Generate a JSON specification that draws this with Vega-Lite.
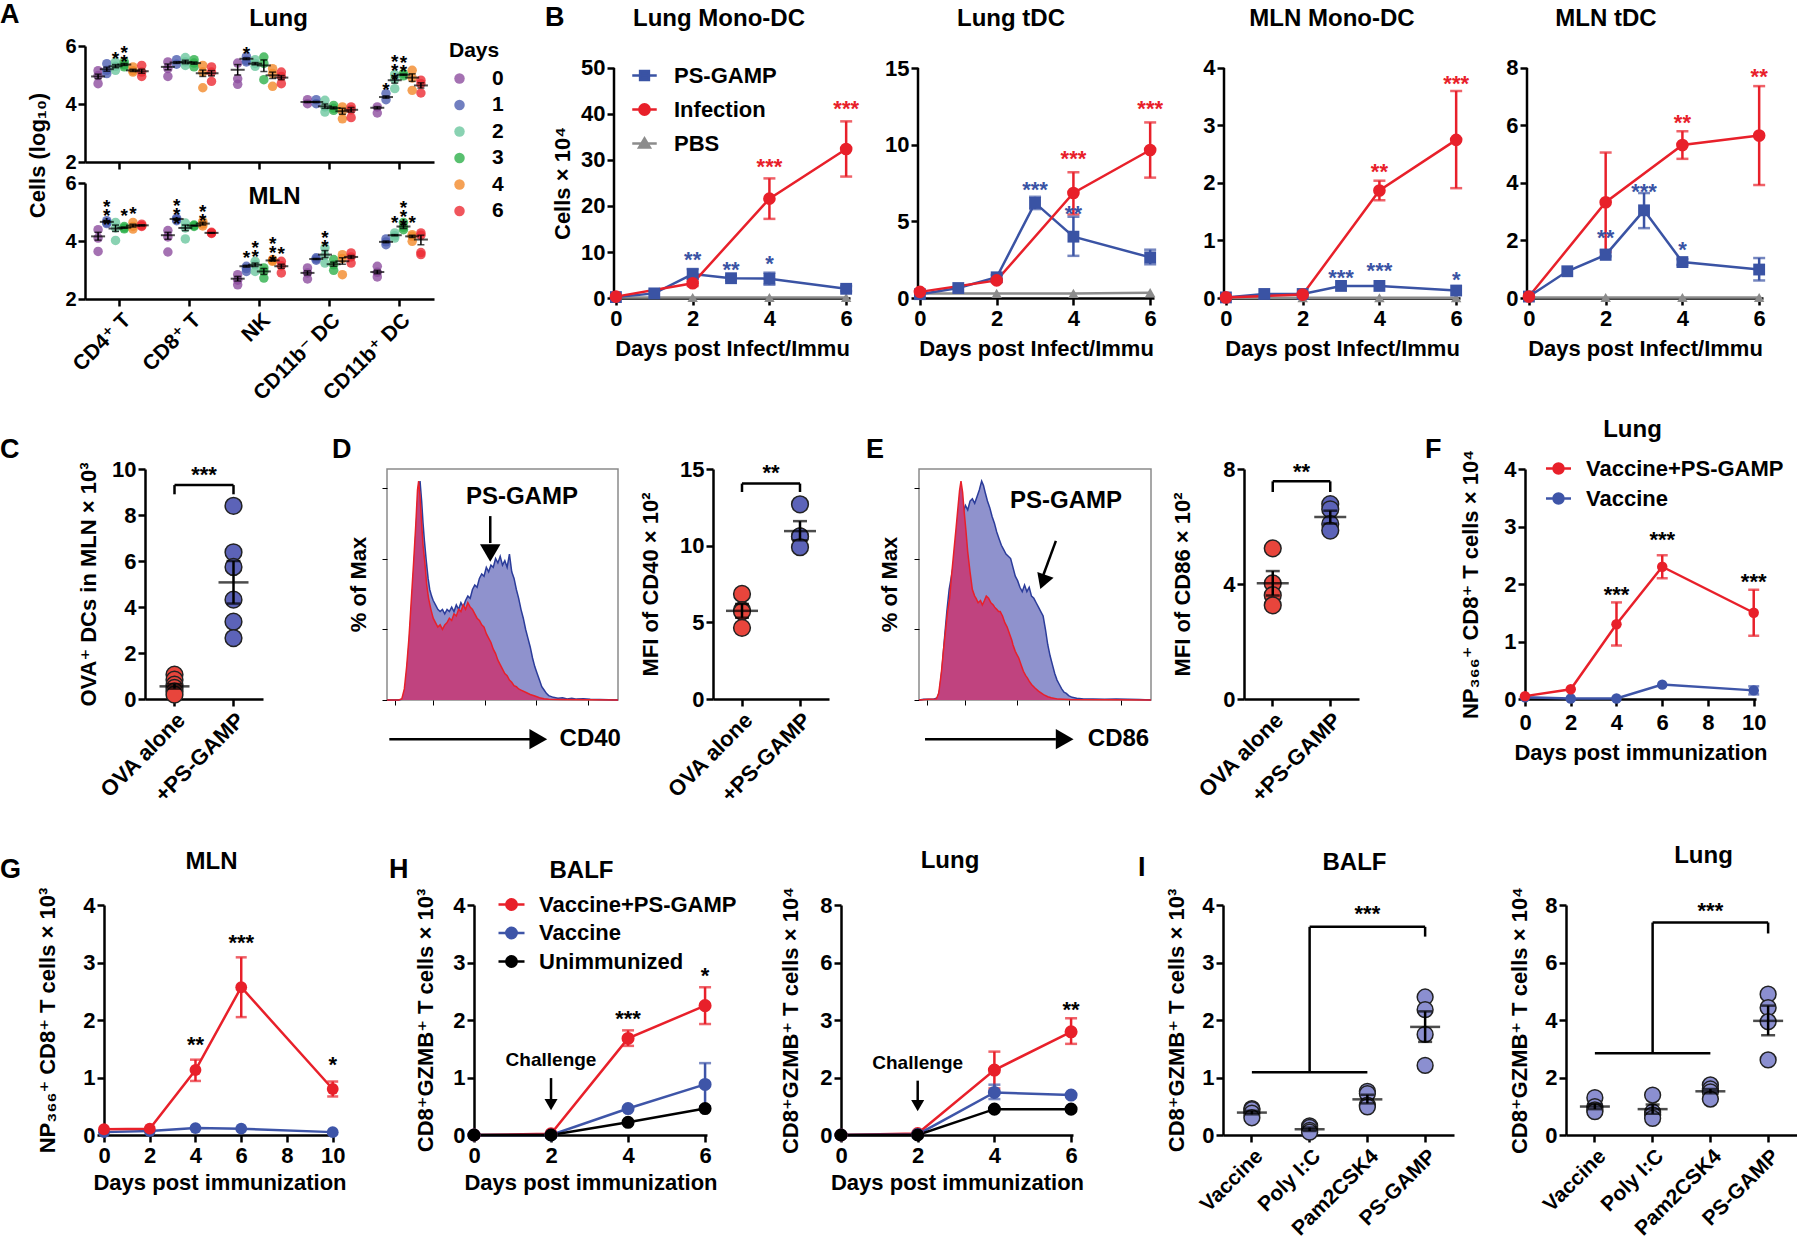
{
"$schema":"https://vega.github.io/schema/vega-lite/v6.json",
"padding":{"left":0,"top":1,"right":0,"bottom":0},
"background":"white",
"config":{
 "font":"Liberation Sans, Arial, DejaVu Sans, sans-serif",
 "view":{"stroke":null},
 "axis":{"domainColor":"#000","domainWidth":2.5,"tickColor":"#000","tickWidth":2.5,"tickSize":7,"labelFontSize":22,"labelFontWeight":"bold","labelColor":"#000","labelPadding":2,"titleFontSize":22,"titleFontWeight":"bold","titleColor":"#000","grid":false,"labelFlush":false,"labelOverlap":false,"titlePadding":6},
 "axisX":{"labelPadding":3},
 "title":{"fontSize":24,"fontWeight":"bold","color":"#000","anchor":"middle","frame":"group"},
 "legend":{"labelFontSize":22,"labelFontWeight":"bold","labelColor":"#000","titleFontSize":22,"titleFontWeight":"bold","titleColor":"#000","padding":0,"labelLimit":0},
 "text":{"fontWeight":"bold","color":"#000"}
},
"datasets":{
"a":[
{"o":"Lung","c":"CD4⁺ T","d":"0","m":4.95,"lo":4.87,"hi":5.03,"p":[5.15,4.98,4.7]},
{"o":"Lung","c":"CD4⁺ T","d":"1","m":5.2,"lo":5.13,"hi":5.27,"p":[5.39,5.16,5.05]},
{"o":"Lung","c":"CD4⁺ T","d":"2","m":5.3,"lo":5.25,"hi":5.36,"p":[5.45,5.3,5.16]},
{"o":"Lung","c":"CD4⁺ T","d":"3","m":5.36,"lo":5.33,"hi":5.4,"p":[5.45,5.35,5.28]},
{"o":"Lung","c":"CD4⁺ T","d":"4","m":5.16,"lo":5.12,"hi":5.2,"p":[5.28,5.15,5.1]},
{"o":"Lung","c":"CD4⁺ T","d":"6","m":5.13,"lo":5.06,"hi":5.2,"p":[5.33,5.1,4.95]},
{"o":"Lung","c":"CD8⁺ T","d":"0","m":5.28,"lo":5.18,"hi":5.38,"p":[5.45,5.22,4.95]},
{"o":"Lung","c":"CD8⁺ T","d":"1","m":5.43,"lo":5.4,"hi":5.46,"p":[5.53,5.37]},
{"o":"Lung","c":"CD8⁺ T","d":"2","m":5.45,"lo":5.39,"hi":5.51,"p":[5.6,5.45,5.33]},
{"o":"Lung","c":"CD8⁺ T","d":"3","m":5.41,"lo":5.37,"hi":5.45,"p":[5.53,5.41,5.28]},
{"o":"Lung","c":"CD8⁺ T","d":"4","m":5.06,"lo":4.95,"hi":5.17,"p":[5.33,5.1,4.56]},
{"o":"Lung","c":"CD8⁺ T","d":"6","m":5.06,"lo":4.97,"hi":5.15,"p":[5.28,5.1,4.78]},
{"o":"Lung","c":"NK","d":"0","m":5.18,"lo":5.0,"hi":5.36,"p":[5.41,4.87,4.68]},
{"o":"Lung","c":"NK","d":"1","m":5.56,"lo":5.53,"hi":5.59,"p":[5.64,5.5,5.45]},
{"o":"Lung","c":"NK","d":"2","m":5.39,"lo":5.35,"hi":5.43,"p":[5.53,5.4,5.3]},
{"o":"Lung","c":"NK","d":"3","m":5.33,"lo":5.12,"hi":5.52,"p":[5.62,5.4,4.84]},
{"o":"Lung","c":"NK","d":"4","m":4.99,"lo":4.88,"hi":5.1,"p":[5.22,5.05,4.61]},
{"o":"Lung","c":"NK","d":"6","m":4.91,"lo":4.84,"hi":4.98,"p":[5.1,4.95,4.7]},
{"o":"Lung","c":"CD11b⁻ DC","d":"0","m":4.07,"lo":4.05,"hi":4.09,"p":[4.15,4.01]},
{"o":"Lung","c":"CD11b⁻ DC","d":"1","m":4.07,"lo":4.05,"hi":4.09,"p":[4.15,4.01]},
{"o":"Lung","c":"CD11b⁻ DC","d":"2","m":3.92,"lo":3.85,"hi":4.0,"p":[4.13,3.9,3.72]},
{"o":"Lung","c":"CD11b⁻ DC","d":"3","m":3.86,"lo":3.83,"hi":3.9,"p":[3.95,3.85,3.78]},
{"o":"Lung","c":"CD11b⁻ DC","d":"4","m":3.75,"lo":3.65,"hi":3.85,"p":[3.9,3.75,3.49]},
{"o":"Lung","c":"CD11b⁻ DC","d":"6","m":3.8,"lo":3.72,"hi":3.88,"p":[3.9,3.8,3.53]},
{"o":"Lung","c":"CD11b⁺ DC","d":"0","m":3.87,"lo":3.83,"hi":3.91,"p":[3.9,3.69]},
{"o":"Lung","c":"CD11b⁺ DC","d":"1","m":4.24,"lo":4.2,"hi":4.28,"p":[4.36,4.15]},
{"o":"Lung","c":"CD11b⁺ DC","d":"2","m":4.82,"lo":4.72,"hi":4.92,"p":[5.02,4.85,4.53]},
{"o":"Lung","c":"CD11b⁺ DC","d":"3","m":5.01,"lo":4.99,"hi":5.03,"p":[5.05,4.97]},
{"o":"Lung","c":"CD11b⁺ DC","d":"4","m":4.91,"lo":4.78,"hi":5.04,"p":[5.16,4.9,4.47]},
{"o":"Lung","c":"CD11b⁺ DC","d":"6","m":4.64,"lo":4.55,"hi":4.73,"p":[4.82,4.7,4.38]},
{"o":"MLN","c":"CD4⁺ T","d":"0","m":4.16,"lo":4.03,"hi":4.3,"p":[4.39,4.1,3.64]},
{"o":"MLN","c":"CD4⁺ T","d":"1","m":4.66,"lo":4.64,"hi":4.68,"p":[4.7,4.64,4.6]},
{"o":"MLN","c":"CD4⁺ T","d":"2","m":4.43,"lo":4.33,"hi":4.55,"p":[4.64,4.45,4.02]},
{"o":"MLN","c":"CD4⁺ T","d":"3","m":4.46,"lo":4.44,"hi":4.48,"p":[4.5,4.45,4.42]},
{"o":"MLN","c":"CD4⁺ T","d":"4","m":4.53,"lo":4.48,"hi":4.58,"p":[4.64,4.5,4.41]},
{"o":"MLN","c":"CD4⁺ T","d":"6","m":4.54,"lo":4.52,"hi":4.56,"p":[4.58,4.53,4.5]},
{"o":"MLN","c":"CD8⁺ T","d":"0","m":4.2,"lo":4.06,"hi":4.3,"p":[4.36,4.14,3.62]},
{"o":"MLN","c":"CD8⁺ T","d":"1","m":4.76,"lo":4.74,"hi":4.78,"p":[4.79,4.74,4.7]},
{"o":"MLN","c":"CD8⁺ T","d":"2","m":4.45,"lo":4.36,"hi":4.55,"p":[4.62,4.45,4.07]},
{"o":"MLN","c":"CD8⁺ T","d":"3","m":4.53,"lo":4.52,"hi":4.54,"p":[4.55,4.53,4.5]},
{"o":"MLN","c":"CD8⁺ T","d":"4","m":4.6,"lo":4.55,"hi":4.65,"p":[4.68,4.59,4.52]},
{"o":"MLN","c":"CD8⁺ T","d":"6","m":4.28,"lo":4.27,"hi":4.29,"p":[4.3,4.28,4.26]},
{"o":"MLN","c":"NK","d":"0","m":2.7,"lo":2.62,"hi":2.78,"p":[2.84,2.65,2.49]},
{"o":"MLN","c":"NK","d":"1","m":3.13,"lo":3.1,"hi":3.16,"p":[3.13,3.05,2.95]},
{"o":"MLN","c":"NK","d":"2","m":3.18,"lo":3.12,"hi":3.24,"p":[3.3,3.18,2.95]},
{"o":"MLN","c":"NK","d":"3","m":2.95,"lo":2.85,"hi":3.05,"p":[3.07,2.95,2.72]},
{"o":"MLN","c":"NK","d":"4","m":3.33,"lo":3.31,"hi":3.35,"p":[3.36,3.33,3.3]},
{"o":"MLN","c":"NK","d":"6","m":3.13,"lo":3.06,"hi":3.2,"p":[3.3,3.15,2.9]},
{"o":"MLN","c":"CD11b⁻ DC","d":"0","m":2.9,"lo":2.83,"hi":2.97,"p":[3.07,2.9,2.69]},
{"o":"MLN","c":"CD11b⁻ DC","d":"1","m":3.38,"lo":3.36,"hi":3.4,"p":[3.42,3.38,3.34]},
{"o":"MLN","c":"CD11b⁻ DC","d":"2","m":3.53,"lo":3.43,"hi":3.67,"p":[3.76,3.5,3.24]},
{"o":"MLN","c":"CD11b⁻ DC","d":"3","m":3.2,"lo":3.13,"hi":3.27,"p":[3.36,3.18,2.99]},
{"o":"MLN","c":"CD11b⁻ DC","d":"4","m":3.3,"lo":3.2,"hi":3.42,"p":[3.53,3.4,2.84]},
{"o":"MLN","c":"CD11b⁻ DC","d":"6","m":3.45,"lo":3.4,"hi":3.5,"p":[3.59,3.45,3.24]},
{"o":"MLN","c":"CD11b⁺ DC","d":"0","m":2.93,"lo":2.87,"hi":2.99,"p":[3.13,2.92,2.76]},
{"o":"MLN","c":"CD11b⁺ DC","d":"1","m":3.97,"lo":3.94,"hi":4.0,"p":[4.07,3.97,3.87]},
{"o":"MLN","c":"CD11b⁺ DC","d":"2","m":4.2,"lo":4.18,"hi":4.22,"p":[4.28,4.18,4.1]},
{"o":"MLN","c":"CD11b⁺ DC","d":"3","m":4.5,"lo":4.43,"hi":4.58,"p":[4.64,4.47,4.39]},
{"o":"MLN","c":"CD11b⁺ DC","d":"4","m":4.16,"lo":4.12,"hi":4.2,"p":[4.22,4.16,3.99]},
{"o":"MLN","c":"CD11b⁺ DC","d":"6","m":4.05,"lo":3.87,"hi":4.2,"p":[4.28,4.2,3.6,3.53]}
],
"as":[
{"o":"Lung","c":"CD4⁺ T","d":"2","y":5.74,"s":["*"]},
{"o":"Lung","c":"CD4⁺ T","d":"3","y":5.94,"s":["*","*"]},
{"o":"Lung","c":"NK","d":"1","y":5.91,"s":["*"]},
{"o":"Lung","c":"CD11b⁺ DC","d":"1","y":4.64,"s":["*"]},
{"o":"Lung","c":"CD11b⁺ DC","d":"2","y":5.61,"s":["*","*","*"]},
{"o":"Lung","c":"CD11b⁺ DC","d":"3","y":5.6,"s":["*","*"]},
{"o":"MLN","c":"CD4⁺ T","d":"1","y":5.33,"s":["*","*","*"]},
{"o":"MLN","c":"CD4⁺ T","d":"3","y":5.02,"s":["*"]},
{"o":"MLN","c":"CD4⁺ T","d":"4","y":5.1,"s":["*"]},
{"o":"MLN","c":"CD8⁺ T","d":"1","y":5.38,"s":["*","*","*"]},
{"o":"MLN","c":"CD8⁺ T","d":"4","y":5.16,"s":["*","*"]},
{"o":"MLN","c":"NK","d":"1","y":3.59,"s":["*"]},
{"o":"MLN","c":"NK","d":"2","y":3.92,"s":["*","*"]},
{"o":"MLN","c":"NK","d":"4","y":4.07,"s":["*","*","*"]},
{"o":"MLN","c":"NK","d":"6","y":3.72,"s":["*"]},
{"o":"MLN","c":"CD11b⁻ DC","d":"2","y":4.26,"s":["*","*"]},
{"o":"MLN","c":"CD11b⁺ DC","d":"2","y":4.79,"s":["*"]},
{"o":"MLN","c":"CD11b⁺ DC","d":"3","y":5.3,"s":["*","*","*"]},
{"o":"MLN","c":"CD11b⁺ DC","d":"4","y":4.79,"s":["*"]}
],
"bd":[
{"p":"B1","s":"PBS","x":0,"m":0.1},{"p":"B1","s":"PBS","x":2,"m":0.1},{"p":"B1","s":"PBS","x":4,"m":0.1},{"p":"B1","s":"PBS","x":6,"m":0.1},
{"p":"B1","s":"PS-GAMP","x":0,"m":0.2},{"p":"B1","s":"PS-GAMP","x":1,"m":1.0},{"p":"B1","s":"PS-GAMP","x":2,"m":5.2,"lo":4.2,"hi":6.3},{"p":"B1","s":"PS-GAMP","x":3,"m":4.3,"lo":3.8,"hi":4.8},{"p":"B1","s":"PS-GAMP","x":4,"m":4.2,"lo":2.9,"hi":5.5},{"p":"B1","s":"PS-GAMP","x":6,"m":2.0,"lo":1.5,"hi":2.6},
{"p":"B1","s":"Infection","x":0,"m":0.3},{"p":"B1","s":"Infection","x":2,"m":3.2,"lo":2.6,"hi":3.8},{"p":"B1","s":"Infection","x":4,"m":21.6,"lo":17.2,"hi":26.0},{"p":"B1","s":"Infection","x":6,"m":32.4,"lo":26.4,"hi":38.4},
{"p":"B2","s":"PBS","x":0,"m":0.3},{"p":"B2","s":"PBS","x":2,"m":0.3},{"p":"B2","s":"PBS","x":4,"m":0.3},{"p":"B2","s":"PBS","x":6,"m":0.35},
{"p":"B2","s":"PS-GAMP","x":0,"m":0.25},{"p":"B2","s":"PS-GAMP","x":1,"m":0.65},{"p":"B2","s":"PS-GAMP","x":2,"m":1.35,"lo":1.2,"hi":1.5},{"p":"B2","s":"PS-GAMP","x":3,"m":6.2,"lo":5.8,"hi":6.6},{"p":"B2","s":"PS-GAMP","x":4,"m":4.0,"lo":2.75,"hi":5.3},{"p":"B2","s":"PS-GAMP","x":6,"m":2.65,"lo":2.2,"hi":3.15},
{"p":"B2","s":"Infection","x":0,"m":0.4},{"p":"B2","s":"Infection","x":2,"m":1.15,"lo":1.05,"hi":1.25},{"p":"B2","s":"Infection","x":4,"m":6.85,"lo":5.45,"hi":8.2},{"p":"B2","s":"Infection","x":6,"m":9.65,"lo":7.85,"hi":11.45},
{"p":"B3","s":"PBS","x":0,"m":0.005},{"p":"B3","s":"PBS","x":2,"m":0.005},{"p":"B3","s":"PBS","x":4,"m":0.005},{"p":"B3","s":"PBS","x":6,"m":0.005},
{"p":"B3","s":"PS-GAMP","x":0,"m":0.01},{"p":"B3","s":"PS-GAMP","x":1,"m":0.07},{"p":"B3","s":"PS-GAMP","x":2,"m":0.07},{"p":"B3","s":"PS-GAMP","x":3,"m":0.21},{"p":"B3","s":"PS-GAMP","x":4,"m":0.21},{"p":"B3","s":"PS-GAMP","x":6,"m":0.13},
{"p":"B3","s":"Infection","x":0,"m":0.01},{"p":"B3","s":"Infection","x":2,"m":0.06},{"p":"B3","s":"Infection","x":4,"m":1.87,"lo":1.7,"hi":2.04},{"p":"B3","s":"Infection","x":6,"m":2.75,"lo":1.91,"hi":3.6},
{"p":"B4","s":"PBS","x":0,"m":0.02},{"p":"B4","s":"PBS","x":2,"m":0.02},{"p":"B4","s":"PBS","x":4,"m":0.02},{"p":"B4","s":"PBS","x":6,"m":0.02},
{"p":"B4","s":"PS-GAMP","x":0,"m":0.05},{"p":"B4","s":"PS-GAMP","x":1,"m":0.93},{"p":"B4","s":"PS-GAMP","x":2,"m":1.5,"lo":1.45,"hi":1.68},{"p":"B4","s":"PS-GAMP","x":3,"m":3.05,"lo":2.43,"hi":3.65},{"p":"B4","s":"PS-GAMP","x":4,"m":1.25,"lo":1.15,"hi":1.35},{"p":"B4","s":"PS-GAMP","x":6,"m":0.99,"lo":0.61,"hi":1.39},
{"p":"B4","s":"Infection","x":0,"m":0.05},{"p":"B4","s":"Infection","x":2,"m":3.33,"lo":1.6,"hi":5.06},{"p":"B4","s":"Infection","x":4,"m":5.32,"lo":4.84,"hi":5.8},{"p":"B4","s":"Infection","x":6,"m":5.65,"lo":3.93,"hi":7.37}
],
"bax":[
{"p":"B1","x":-0.05,"y":0,"y2":50},{"p":"B2","x":-0.05,"y":0,"y2":15},{"p":"B3","x":-0.05,"y":0,"y2":4},{"p":"B4","x":-0.05,"y":0,"y2":8}
],
"bs":[
{"p":"B1","s":"PS-GAMP","x":2,"y":9.6,"t":"**"},{"p":"B1","s":"PS-GAMP","x":3,"y":7.4,"t":"**"},{"p":"B1","s":"PS-GAMP","x":4,"y":8.7,"t":"*"},{"p":"B1","s":"Infection","x":4,"y":29.7,"t":"***"},{"p":"B1","s":"Infection","x":6,"y":42.4,"t":"***"},
{"p":"B2","s":"PS-GAMP","x":3,"y":7.45,"t":"***"},{"p":"B2","s":"PS-GAMP","x":4,"y":5.9,"t":"**"},{"p":"B2","s":"Infection","x":4,"y":9.44,"t":"***"},{"p":"B2","s":"Infection","x":6,"y":12.7,"t":"***"},
{"p":"B3","s":"PS-GAMP","x":3,"y":0.45,"t":"***"},{"p":"B3","s":"PS-GAMP","x":4,"y":0.57,"t":"***"},{"p":"B3","s":"PS-GAMP","x":6,"y":0.42,"t":"*"},{"p":"B3","s":"Infection","x":4,"y":2.3,"t":"**"},{"p":"B3","s":"Infection","x":6,"y":3.83,"t":"***"},
{"p":"B4","s":"PS-GAMP","x":2,"y":2.29,"t":"**"},{"p":"B4","s":"PS-GAMP","x":3,"y":3.9,"t":"***"},{"p":"B4","s":"PS-GAMP","x":4,"y":1.88,"t":"*"},{"p":"B4","s":"Infection","x":4,"y":6.3,"t":"**"},{"p":"B4","s":"Infection","x":6,"y":7.9,"t":"**"}
],
"ld":[
{"p":"F","s":"Vaccine","x":0,"m":0.03},{"p":"F","s":"Vaccine","x":2,"m":0.01},{"p":"F","s":"Vaccine","x":4,"m":0.01},{"p":"F","s":"Vaccine","x":6,"m":0.25},{"p":"F","s":"Vaccine","x":10,"m":0.15,"lo":0.08,"hi":0.22},
{"p":"F","s":"Vaccine+PS-GAMP","x":0,"m":0.05},{"p":"F","s":"Vaccine+PS-GAMP","x":2,"m":0.17},{"p":"F","s":"Vaccine+PS-GAMP","x":4,"m":1.3,"lo":0.93,"hi":1.68},{"p":"F","s":"Vaccine+PS-GAMP","x":6,"m":2.3,"lo":2.1,"hi":2.5},{"p":"F","s":"Vaccine+PS-GAMP","x":10,"m":1.5,"lo":1.1,"hi":1.9},
{"p":"G","s":"Vaccine","x":0,"m":0.05},{"p":"G","s":"Vaccine","x":2,"m":0.07},{"p":"G","s":"Vaccine","x":4,"m":0.12},{"p":"G","s":"Vaccine","x":6,"m":0.11},{"p":"G","s":"Vaccine","x":10,"m":0.05},
{"p":"G","s":"Vaccine+PS-GAMP","x":0,"m":0.1},{"p":"G","s":"Vaccine+PS-GAMP","x":2,"m":0.11},{"p":"G","s":"Vaccine+PS-GAMP","x":4,"m":1.13,"lo":0.94,"hi":1.31},{"p":"G","s":"Vaccine+PS-GAMP","x":6,"m":2.57,"lo":2.05,"hi":3.09},{"p":"G","s":"Vaccine+PS-GAMP","x":10,"m":0.8,"lo":0.67,"hi":0.93},
{"p":"HB","s":"Vaccine+PS-GAMP","x":0,"m":0},{"p":"HB","s":"Vaccine+PS-GAMP","x":2,"m":0.02},{"p":"HB","s":"Vaccine+PS-GAMP","x":4,"m":1.68,"lo":1.55,"hi":1.82},{"p":"HB","s":"Vaccine+PS-GAMP","x":6,"m":2.25,"lo":1.93,"hi":2.57},
{"p":"HB","s":"Vaccine","x":0,"m":0},{"p":"HB","s":"Vaccine","x":2,"m":0},{"p":"HB","s":"Vaccine","x":4,"m":0.46},{"p":"HB","s":"Vaccine","x":6,"m":0.88,"lo":0.5,"hi":1.25},
{"p":"HB","s":"Unimmunized","x":0,"m":0},{"p":"HB","s":"Unimmunized","x":2,"m":0},{"p":"HB","s":"Unimmunized","x":4,"m":0.22},{"p":"HB","s":"Unimmunized","x":6,"m":0.46},
{"p":"HL","s":"Vaccine+PS-GAMP","x":0,"m":0},{"p":"HL","s":"Vaccine+PS-GAMP","x":2,"m":0.05},{"p":"HL","s":"Vaccine+PS-GAMP","x":4,"m":2.26,"lo":1.62,"hi":2.9},{"p":"HL","s":"Vaccine+PS-GAMP","x":6,"m":3.59,"lo":3.17,"hi":4.06},
{"p":"HL","s":"Vaccine","x":0,"m":0},{"p":"HL","s":"Vaccine","x":2,"m":0.02},{"p":"HL","s":"Vaccine","x":4,"m":1.48,"lo":1.25,"hi":1.75},{"p":"HL","s":"Vaccine","x":6,"m":1.39},
{"p":"HL","s":"Unimmunized","x":0,"m":0},{"p":"HL","s":"Unimmunized","x":2,"m":0},{"p":"HL","s":"Unimmunized","x":4,"m":0.9},{"p":"HL","s":"Unimmunized","x":6,"m":0.9}
],
"ls":[
{"p":"F","x":4,"y":1.91,"t":"***"},{"p":"F","x":6,"y":2.87,"t":"***"},{"p":"F","x":10,"y":2.14,"t":"***"},
{"p":"G","x":4,"y":1.67,"t":"**"},{"p":"G","x":6,"y":3.45,"t":"***"},{"p":"G","x":10,"y":1.32,"t":"*"},
{"p":"HB","x":4,"y":2.12,"t":"***"},{"p":"HB","x":6,"y":2.87,"t":"*"},
{"p":"HL","x":6,"y":4.56,"t":"**"}
],
"ann":[
{"p":"HB","x":2,"y":1.3,"ya":0.99,"yb":0.62,"yh":0.53,"t":"Challenge"},
{"p":"HL","x":2,"y":2.5,"ya":1.89,"yb":1.15,"yh":1.02,"t":"Challenge"}
],
"dp":[
{"p":"C","g":"OVA alone","m":0.55,"lo":0.45,"hi":0.65,"pts":[1.06,0.84,0.62,0.48,0.33,0.19]},
{"p":"C","g":"+PS-GAMP","m":5.07,"lo":4.15,"hi":6.0,"pts":[8.4,6.38,5.74,4.32,3.36,2.65]},
{"p":"D","g":"OVA alone","m":5.75,"lo":5.3,"hi":6.2,"pts":[6.85,5.8,5.7,4.64]},
{"p":"D","g":"+PS-GAMP","m":10.95,"lo":10.35,"hi":11.6,"pts":[12.7,10.6,10.6,9.9]},
{"p":"E","g":"OVA alone","m":4.03,"lo":3.6,"hi":4.45,"pts":[5.24,4.02,3.61,3.26]},
{"p":"E","g":"+PS-GAMP","m":6.33,"lo":6.1,"hi":6.55,"pts":[6.78,6.6,6.09,5.86]},
{"p":"IB","g":"Vaccine","m":0.39,"lo":0.36,"hi":0.42,"pts":[0.46,0.44,0.38,0.3]},
{"p":"IB","g":"Poly I:C","m":0.1,"lo":0.07,"hi":0.13,"pts":[0.16,0.13,0.08,0.05]},
{"p":"IB","g":"Pam2CSK4","m":0.62,"lo":0.55,"hi":0.7,"pts":[0.76,0.72,0.52,0.49]},
{"p":"IB","g":"PS-GAMP","m":1.88,"lo":1.62,"hi":2.15,"pts":[2.4,2.18,1.75,1.21]},
{"p":"IL","g":"Vaccine","m":0.99,"lo":0.9,"hi":1.08,"pts":[1.3,0.99,0.87,0.81]},
{"p":"IL","g":"Poly I:C","m":0.9,"lo":0.74,"hi":1.06,"pts":[1.39,0.8,0.7,0.58]},
{"p":"IL","g":"Pam2CSK4","m":1.52,"lo":1.45,"hi":1.6,"pts":[1.74,1.6,1.5,1.25]},
{"p":"IL","g":"PS-GAMP","m":3.97,"lo":3.47,"hi":4.5,"pts":[4.9,4.43,3.94,2.61]}
],
"br":[
{"p":"C","g1":"OVA alone","g2":"+PS-GAMP","y":9.3,"y2":9.3},{"p":"C","g1":"OVA alone","g2":"OVA alone","y":9.3,"y2":8.9},{"p":"C","g1":"+PS-GAMP","g2":"+PS-GAMP","y":9.3,"y2":8.9},
{"p":"D","g1":"OVA alone","g2":"+PS-GAMP","y":14.05,"y2":14.05},{"p":"D","g1":"OVA alone","g2":"OVA alone","y":14.05,"y2":13.5},{"p":"D","g1":"+PS-GAMP","g2":"+PS-GAMP","y":14.05,"y2":13.5},
{"p":"E","g1":"OVA alone","g2":"+PS-GAMP","y":7.57,"y2":7.57},{"p":"E","g1":"OVA alone","g2":"OVA alone","y":7.57,"y2":7.2},{"p":"E","g1":"+PS-GAMP","g2":"+PS-GAMP","y":7.57,"y2":7.2},
{"p":"IB","g1":"Vaccine","g2":"Pam2CSK4","y":1.09,"y2":1.09},{"p":"IB","g1":"Poly I:C","g2":"Poly I:C","y":1.09,"y2":3.62},{"p":"IB","g1":"Poly I:C","g2":"PS-GAMP","y":3.62,"y2":3.62},{"p":"IB","g1":"PS-GAMP","g2":"PS-GAMP","y":3.62,"y2":3.45},
{"p":"IL","g1":"Vaccine","g2":"Pam2CSK4","y":2.84,"y2":2.84},{"p":"IL","g1":"Poly I:C","g2":"Poly I:C","y":2.84,"y2":7.39},{"p":"IL","g1":"Poly I:C","g2":"PS-GAMP","y":7.39,"y2":7.39},{"p":"IL","g1":"PS-GAMP","g2":"PS-GAMP","y":7.39,"y2":7.01}
],
"ds":[
{"p":"C","g":"OVA alone","y":10.0,"t":"***"},
{"p":"D","g":"OVA alone","y":15.1,"t":"**"},
{"p":"E","g":"OVA alone","y":8.1,"t":"**"},
{"p":"IB","g":"Pam2CSK4","y":3.94,"t":"***"},
{"p":"IL","g":"Pam2CSK4","y":8.0,"t":"***"}
],
"hist":[
{"p":"D","s":"b","x":[0,5,7,8,9,10,11,12,13,13.7,14.3,15,15.6,16.2,17,17.8,18.5,19.3,20,21,22,23,24,25,26,27,28,29,30,31,32,33,34,35,36,37,38,39,40,41,42,43,44,45,46,47,48,49,50,51,52,53,54,55,56,57,58,59,60,61,62,63,64,65,66,67,68,69,70,72,74,76,78,80,82,85,88,92,100],
 "y":[0,0,0.5,6,18,32,48,66,85,97,99,90,80,72,63,55,50,47,45,43,41,40,41,39,41,40,42,40,43,41,44,42,45,47,46,50,52,51,55,57,56,60,58,61,60,64,62,65,61,63,60,66,58,55,50,46,41,37,32,28,24,19,15,12,9,6,4.5,3,2,1.2,0.8,1,0.5,0.8,0.4,0.6,0.3,0.2,0]},
{"p":"D","s":"r","x":[0,5,6.4,7.5,8.5,9.5,10.5,11.5,12.5,13.2,13.7,14.3,15,15.6,16.4,17.2,18,19,20,21,22,23,24,25,26,27,28,29,30,31,32,33,34,35,36,37,38,39,40,41,42,43,44,45,46,47,48,49,50,51,52,53,54,55,56,57,58,60,62,64,66,68,70,75,100],
 "y":[0,0,0.5,5,15,28,45,62,80,95,99,92,80,70,62,52,46,41,37,35,33,34,32,34,35,37,36,39,38,41,40,43,41,44,42,41,39,37,36,34,33,30,28,26,23,21,18,16,14,12,11,9,8,6.5,6,5,4.5,3.5,2.5,1.8,1,0.6,0.3,0.2,0]},
{"p":"E","s":"b","x":[0,2,6,8,9,10,11,12,13,14,15,16,17,18,19,20,21,22,23,24,25,26,27,27.8,28.5,29.5,30.5,31.5,32.5,33.5,34.5,35.5,36.5,37.5,38.5,39.5,40.5,41.5,42.5,43.5,44.5,45.5,46.5,47.5,48.5,49.5,50.5,51.5,52.5,53.5,54.5,55.5,56.5,57.5,58.5,59.5,60.5,61.5,62.5,63.5,64.5,66,68,71,75,80,85,90,95,100],
 "y":[0,0.3,0.3,1,5,15,28,40,50,56,62,68,73,79,85,88,86,90,91,89,92,95,99,97,94,90,87,83,80,76,73,70,68,66,65,64,60,56,54,51,49,52,49,51,47,46,44,42,40,38,32,25,20,16,12,9,7,5,3.5,3,2,1.2,0.8,0.5,0.4,0.3,0.5,0.3,0.2,0]},
{"p":"E","s":"r","x":[0,4,7.5,8.5,9.7,10.5,11.4,12.3,13.2,14,15,16,16.7,17.5,18.1,18.8,19.4,20.2,21,22,23,24,24.6,25.5,26.5,27.3,28.2,29,30,31,32,32.6,33.5,34.3,35,36,37,38,39,40,40.5,41.5,42.5,43,44,45,46,46.7,47.5,48.5,50,51.5,53.7,55.5,57,60,65,100],
 "y":[0,0.3,0.5,3,13,22,31,40,46,56,67,78,86,95,99,94,86,77,67,58,50,47,46,44,45,43,45,47,46,44,43,42,41,40,40,38,35,33,30,27,25,22,20,19,16,13,11,10,8.5,7,5.4,4,2.4,1.5,1,0.4,0.2,0]}
],
"hann":[
{"p":"D","tx":58.4,"ty":92,"t":"PS-GAMP","ax":44.7,"ay1":83.2,"ay2":71,"hx":44.7,"hy":66.5,"bx1":1,"bx2":62,"by":-17.7,"bhx":65.5,"lx":88,"lt":"CD40"},
{"p":"E","tx":63.4,"ty":90,"t":"PS-GAMP","ax":59,"ay1":72,"ay2":56,"hx":53.4,"hy":53.4,"bx1":2.6,"bx2":59,"by":-17.7,"bhx":62.8,"lx":86,"lt":"CD86"}
]
},
"resolve":{"scale":{"color":"independent","shape":"independent"}},
"spacing":0,
"vconcat":[
{
"hconcat":[
{
"vconcat":[
{"width":349,"height":116,"title":{"text":"Lung","offset":5,"dx":19},
"layer":[
{"data":{"name":"a"},"transform":[{"filter":"datum.o==='Lung'"},{"flatten":["p"],"as":["v"]}],"mark":{"type":"circle","size":90,"opacity":0.8},
"encoding":{"x":{"field":"c","type":"nominal","scale":{"domain":["CD4⁺ T","CD8⁺ T","NK","CD11b⁻ DC","CD11b⁺ DC"],"paddingInner":0,"paddingOuter":0},"axis":{"labels":false,"title":null}},
"xOffset":{"field":"d","type":"nominal","scale":{"domain":["0","1","2","3","4","6"],"paddingInner":0,"paddingOuter":1}},
"y":{"field":"v","type":"quantitative","scale":{"domain":[2,6],"nice":false},"axis":{"values":[2,4,6],"format":"d","title":"Cells (log₁₀)","labelFontSize":20,"titleX":-48,"titleY":109,"titleBaseline":"middle"}},
"color":{"field":"d","type":"nominal","scale":{"domain":["0","1","2","3","4","6"],"range":["#8d4e9f","#4e5fb0","#6cc79f","#2eb04b","#f28a2a","#ec2a33"]},"legend":{"orient":"none","legendX":364,"legendY":-6,"title":"Days","symbolType":"circle","symbolSize":110,"symbolOpacity":0.85,"labelFontSize":21,"titleFontSize":21,"rowPadding":4.5,"labelOffset":22,"titlePadding":7}}}},
{"data":{"name":"a"},"transform":[{"filter":"datum.o==='Lung'"}],"mark":{"type":"rule","strokeWidth":1.5,"color":"#000"},"encoding":{"x":{"field":"c","type":"nominal"},"xOffset":{"field":"d","type":"nominal"},"y":{"field":"lo","type":"quantitative"},"y2":{"field":"hi"}}},
{"data":{"name":"a"},"transform":[{"filter":"datum.o==='Lung'"}],"mark":{"type":"tick","size":7,"thickness":1.5,"color":"#000"},"encoding":{"x":{"field":"c","type":"nominal"},"xOffset":{"field":"d","type":"nominal"},"y":{"field":"lo","type":"quantitative"}}},
{"data":{"name":"a"},"transform":[{"filter":"datum.o==='Lung'"}],"mark":{"type":"tick","size":7,"thickness":1.5,"color":"#000"},"encoding":{"x":{"field":"c","type":"nominal"},"xOffset":{"field":"d","type":"nominal"},"y":{"field":"hi","type":"quantitative"}}},
{"data":{"name":"a"},"transform":[{"filter":"datum.o==='Lung'"}],"mark":{"type":"tick","size":14,"thickness":2,"color":"#000"},"encoding":{"x":{"field":"c","type":"nominal"},"xOffset":{"field":"d","type":"nominal"},"y":{"field":"m","type":"quantitative"}}},
{"data":{"name":"as"},"transform":[{"filter":"datum.o==='Lung'"}],"mark":{"type":"text","fontSize":19,"baseline":"middle","lineHeight":9,"dy":5},"encoding":{"x":{"field":"c","type":"nominal"},"xOffset":{"field":"d","type":"nominal"},"y":{"field":"y","type":"quantitative"},"text":{"field":"s"}}}
]},
{"width":349,"height":116,"title":{"text":"MLN","offset":-36,"dx":15},
"layer":[
{"data":{"name":"a"},"transform":[{"filter":"datum.o==='MLN'"},{"flatten":["p"],"as":["v"]}],"mark":{"type":"circle","size":90,"opacity":0.8},
"encoding":{"x":{"field":"c","type":"nominal","scale":{"domain":["CD4⁺ T","CD8⁺ T","NK","CD11b⁻ DC","CD11b⁺ DC"],"paddingInner":0,"paddingOuter":0},"axis":{"title":null,"labelAngle":-45,"labelFontSize":21,"labelPadding":3}},
"xOffset":{"field":"d","type":"nominal","scale":{"domain":["0","1","2","3","4","6"],"paddingInner":0,"paddingOuter":1}},
"y":{"field":"v","type":"quantitative","scale":{"domain":[2,6],"nice":false},"axis":{"values":[2,4,6],"format":"d","title":null,"labelFontSize":20}},
"color":{"field":"d","type":"nominal"}}},
{"data":{"name":"a"},"transform":[{"filter":"datum.o==='MLN'"}],"mark":{"type":"rule","strokeWidth":1.5,"color":"#000"},"encoding":{"x":{"field":"c","type":"nominal"},"xOffset":{"field":"d","type":"nominal"},"y":{"field":"lo","type":"quantitative"},"y2":{"field":"hi"}}},
{"data":{"name":"a"},"transform":[{"filter":"datum.o==='MLN'"}],"mark":{"type":"tick","size":7,"thickness":1.5,"color":"#000"},"encoding":{"x":{"field":"c","type":"nominal"},"xOffset":{"field":"d","type":"nominal"},"y":{"field":"lo","type":"quantitative"}}},
{"data":{"name":"a"},"transform":[{"filter":"datum.o==='MLN'"}],"mark":{"type":"tick","size":7,"thickness":1.5,"color":"#000"},"encoding":{"x":{"field":"c","type":"nominal"},"xOffset":{"field":"d","type":"nominal"},"y":{"field":"hi","type":"quantitative"}}},
{"data":{"name":"a"},"transform":[{"filter":"datum.o==='MLN'"}],"mark":{"type":"tick","size":14,"thickness":2,"color":"#000"},"encoding":{"x":{"field":"c","type":"nominal"},"xOffset":{"field":"d","type":"nominal"},"y":{"field":"m","type":"quantitative"}}},
{"data":{"name":"as"},"transform":[{"filter":"datum.o==='MLN'"}],"mark":{"type":"text","fontSize":19,"baseline":"middle","lineHeight":9,"dy":5},"encoding":{"x":{"field":"c","type":"nominal"},"xOffset":{"field":"d","type":"nominal"},"y":{"field":"y","type":"quantitative"},"text":{"field":"s"}}}
]}
],
"spacing":21,"bounds":"flush",
"title":{"text":"A","anchor":"start","frame":"bounds","fontSize":27,"dx":-26,"offset":-22}
},
{
"hconcat":[
{"width":60,"height":372,"data":{"values":[]},"mark":"point","title":{"text":"B","anchor":"start","fontSize":27,"offset":14,"dx":-9}},
{"width":236,"height":252,"title":{"text":"Lung Mono-DC","offset":15,"dx":-13},
"layer":[
{"data":{"name":"bd"},"transform":[{"filter":"datum.p==='B1'"}],"mark":{"type":"line","strokeWidth":2.5},
"encoding":{"x":{"field":"x","type":"quantitative","scale":{"domain":[-0.05,6.1],"nice":false},"axis":{"values":[0,2,4,6],"title":"Days post Infect/Immu","titlePadding":9}},
"y":{"field":"m","type":"quantitative","scale":{"domain":[0,54.7826],"nice":false},"axis":{"values":[0,10,20,30,40,50],"format":"d","domain":false,"title":"Cells × 10⁴","titleX":-52,"titleY":137,"titleBaseline":"middle"}},
"color":{"field":"s","type":"nominal","scale":{"domain":["PBS","PS-GAMP","Infection"],"range":["#8c8c8c","#3a53a4","#e8202a"]},
"legend":{"orient":"none","legendX":17,"legendY":16,"title":null,"values":["PS-GAMP","Infection","PBS"],"symbolSize":600,"labelOffset":16,"rowPadding":9,"labelFontSize":22,
"encode":{"symbols":{"update":{"shape":{"signal":"datum.value==='PS-GAMP' ? 'M-1,0H1M-0.36,-0.36H0.36V0.36H-0.36Z' : datum.value==='Infection' ? 'M-1,0H1M0.42,0A0.42,0.42,0,1,1,-0.42,0A0.42,0.42,0,1,1,0.42,0Z' : 'M-1,0H1M0,-0.42L0.44,0.32H-0.44Z'"},"fill":{"signal":"datum.value==='PS-GAMP' ? '#3a53a4' : datum.value==='Infection' ? '#e8202a' : '#8c8c8c'"},"stroke":{"signal":"datum.value==='PS-GAMP' ? '#3a53a4' : datum.value==='Infection' ? '#e8202a' : '#8c8c8c'"},"strokeWidth":{"value":2.5},"opacity":{"value":1}}}}}}}},
{"data":{"name":"bax"},"transform":[{"filter":"datum.p==='B1'"}],"mark":{"type":"rule","strokeWidth":2.5,"color":"#000"},"encoding":{"x":{"field":"x","type":"quantitative"},"y":{"field":"y","type":"quantitative"},"y2":{"field":"y2"}}},
{"data":{"name":"bd"},"transform":[{"filter":"datum.p==='B1' && isValid(datum.lo)"}],"mark":{"type":"rule","strokeWidth":2.5},"encoding":{"x":{"field":"x","type":"quantitative"},"y":{"field":"lo","type":"quantitative"},"y2":{"field":"hi"},"color":{"field":"s","type":"nominal","legend":null}}},
{"data":{"name":"bd"},"transform":[{"filter":"datum.p==='B1' && isValid(datum.lo)"}],"mark":{"type":"tick","orient":"horizontal","size":12,"thickness":2.5},"encoding":{"x":{"field":"x","type":"quantitative"},"y":{"field":"lo","type":"quantitative"},"color":{"field":"s","type":"nominal","legend":null}}},
{"data":{"name":"bd"},"transform":[{"filter":"datum.p==='B1' && isValid(datum.lo)"}],"mark":{"type":"tick","orient":"horizontal","size":12,"thickness":2.5},"encoding":{"x":{"field":"x","type":"quantitative"},"y":{"field":"hi","type":"quantitative"},"color":{"field":"s","type":"nominal","legend":null}}},
{"data":{"name":"bd"},"transform":[{"filter":"datum.p==='B1' && datum.s==='PBS'"}],"mark":{"type":"point","shape":"triangle-up","filled":true,"size":110,"opacity":1},"encoding":{"x":{"field":"x","type":"quantitative"},"y":{"field":"m","type":"quantitative"},"color":{"field":"s","type":"nominal","legend":null}}},
{"data":{"name":"bd"},"transform":[{"filter":"datum.p==='B1' && datum.s==='PS-GAMP'"}],"mark":{"type":"point","shape":"square","filled":true,"size":140,"opacity":1},"encoding":{"x":{"field":"x","type":"quantitative"},"y":{"field":"m","type":"quantitative"},"color":{"field":"s","type":"nominal","legend":null}}},
{"data":{"name":"bd"},"transform":[{"filter":"datum.p==='B1' && datum.s==='Infection'"}],"mark":{"type":"point","shape":"circle","filled":true,"size":160,"opacity":1},"encoding":{"x":{"field":"x","type":"quantitative"},"y":{"field":"m","type":"quantitative"},"color":{"field":"s","type":"nominal","legend":null}}},
{"data":{"name":"bs"},"transform":[{"filter":"datum.p==='B1'"}],"mark":{"type":"text","fontSize":22,"dy":6},"encoding":{"x":{"field":"x","type":"quantitative"},"y":{"field":"y","type":"quantitative"},"text":{"field":"t"},"color":{"field":"s","type":"nominal","legend":null}}}
]},
{"width":68,"height":1,"data":{"values":[]},"mark":"point"},
{"width":236,"height":252,"title":{"text":"Lung tDC","offset":15,"dx":-25},
"layer":[
{"data":{"name":"bd"},"transform":[{"filter":"datum.p==='B2'"}],"mark":{"type":"line","strokeWidth":2.5},
"encoding":{"x":{"field":"x","type":"quantitative","scale":{"domain":[-0.05,6.1],"nice":false},"axis":{"values":[0,2,4,6],"title":"Days post Infect/Immu","titlePadding":9}},
"y":{"field":"m","type":"quantitative","scale":{"domain":[0,16.4348],"nice":false},"axis":{"values":[0,5,10,15],"format":"d","domain":false,"title":null}},
"color":{"field":"s","type":"nominal","scale":{"domain":["PBS","PS-GAMP","Infection"],"range":["#8c8c8c","#3a53a4","#e8202a"]},"legend":null}}},
{"data":{"name":"bax"},"transform":[{"filter":"datum.p==='B2'"}],"mark":{"type":"rule","strokeWidth":2.5,"color":"#000"},"encoding":{"x":{"field":"x","type":"quantitative"},"y":{"field":"y","type":"quantitative"},"y2":{"field":"y2"}}},
{"data":{"name":"bd"},"transform":[{"filter":"datum.p==='B2' && isValid(datum.lo)"}],"mark":{"type":"rule","strokeWidth":2.5},"encoding":{"x":{"field":"x","type":"quantitative"},"y":{"field":"lo","type":"quantitative"},"y2":{"field":"hi"},"color":{"field":"s","type":"nominal","legend":null}}},
{"data":{"name":"bd"},"transform":[{"filter":"datum.p==='B2' && isValid(datum.lo)"}],"mark":{"type":"tick","orient":"horizontal","size":12,"thickness":2.5},"encoding":{"x":{"field":"x","type":"quantitative"},"y":{"field":"lo","type":"quantitative"},"color":{"field":"s","type":"nominal","legend":null}}},
{"data":{"name":"bd"},"transform":[{"filter":"datum.p==='B2' && isValid(datum.lo)"}],"mark":{"type":"tick","orient":"horizontal","size":12,"thickness":2.5},"encoding":{"x":{"field":"x","type":"quantitative"},"y":{"field":"hi","type":"quantitative"},"color":{"field":"s","type":"nominal","legend":null}}},
{"data":{"name":"bd"},"transform":[{"filter":"datum.p==='B2' && datum.s==='PBS'"}],"mark":{"type":"point","shape":"triangle-up","filled":true,"size":110,"opacity":1},"encoding":{"x":{"field":"x","type":"quantitative"},"y":{"field":"m","type":"quantitative"},"color":{"field":"s","type":"nominal","legend":null}}},
{"data":{"name":"bd"},"transform":[{"filter":"datum.p==='B2' && datum.s==='PS-GAMP'"}],"mark":{"type":"point","shape":"square","filled":true,"size":140,"opacity":1},"encoding":{"x":{"field":"x","type":"quantitative"},"y":{"field":"m","type":"quantitative"},"color":{"field":"s","type":"nominal","legend":null}}},
{"data":{"name":"bd"},"transform":[{"filter":"datum.p==='B2' && datum.s==='Infection'"}],"mark":{"type":"point","shape":"circle","filled":true,"size":160,"opacity":1},"encoding":{"x":{"field":"x","type":"quantitative"},"y":{"field":"m","type":"quantitative"},"color":{"field":"s","type":"nominal","legend":null}}},
{"data":{"name":"bs"},"transform":[{"filter":"datum.p==='B2'"}],"mark":{"type":"text","fontSize":22,"dy":6},"encoding":{"x":{"field":"x","type":"quantitative"},"y":{"field":"y","type":"quantitative"},"text":{"field":"t"},"color":{"field":"s","type":"nominal","legend":null}}}
]},
{"width":70,"height":1,"data":{"values":[]},"mark":"point"},
{"width":236,"height":252,"title":{"text":"MLN Mono-DC","offset":15,"dx":-10},
"layer":[
{"data":{"name":"bd"},"transform":[{"filter":"datum.p==='B3'"}],"mark":{"type":"line","strokeWidth":2.5},
"encoding":{"x":{"field":"x","type":"quantitative","scale":{"domain":[-0.05,6.1],"nice":false},"axis":{"values":[0,2,4,6],"title":"Days post Infect/Immu","titlePadding":9}},
"y":{"field":"m","type":"quantitative","scale":{"domain":[0,4.3826],"nice":false},"axis":{"values":[0,1,2,3,4],"format":"d","domain":false,"title":null}},
"color":{"field":"s","type":"nominal","scale":{"domain":["PBS","PS-GAMP","Infection"],"range":["#8c8c8c","#3a53a4","#e8202a"]},"legend":null}}},
{"data":{"name":"bax"},"transform":[{"filter":"datum.p==='B3'"}],"mark":{"type":"rule","strokeWidth":2.5,"color":"#000"},"encoding":{"x":{"field":"x","type":"quantitative"},"y":{"field":"y","type":"quantitative"},"y2":{"field":"y2"}}},
{"data":{"name":"bd"},"transform":[{"filter":"datum.p==='B3' && isValid(datum.lo)"}],"mark":{"type":"rule","strokeWidth":2.5},"encoding":{"x":{"field":"x","type":"quantitative"},"y":{"field":"lo","type":"quantitative"},"y2":{"field":"hi"},"color":{"field":"s","type":"nominal","legend":null}}},
{"data":{"name":"bd"},"transform":[{"filter":"datum.p==='B3' && isValid(datum.lo)"}],"mark":{"type":"tick","orient":"horizontal","size":12,"thickness":2.5},"encoding":{"x":{"field":"x","type":"quantitative"},"y":{"field":"lo","type":"quantitative"},"color":{"field":"s","type":"nominal","legend":null}}},
{"data":{"name":"bd"},"transform":[{"filter":"datum.p==='B3' && isValid(datum.lo)"}],"mark":{"type":"tick","orient":"horizontal","size":12,"thickness":2.5},"encoding":{"x":{"field":"x","type":"quantitative"},"y":{"field":"hi","type":"quantitative"},"color":{"field":"s","type":"nominal","legend":null}}},
{"data":{"name":"bd"},"transform":[{"filter":"datum.p==='B3' && datum.s==='PBS'"}],"mark":{"type":"point","shape":"triangle-up","filled":true,"size":110,"opacity":1},"encoding":{"x":{"field":"x","type":"quantitative"},"y":{"field":"m","type":"quantitative"},"color":{"field":"s","type":"nominal","legend":null}}},
{"data":{"name":"bd"},"transform":[{"filter":"datum.p==='B3' && datum.s==='PS-GAMP'"}],"mark":{"type":"point","shape":"square","filled":true,"size":140,"opacity":1},"encoding":{"x":{"field":"x","type":"quantitative"},"y":{"field":"m","type":"quantitative"},"color":{"field":"s","type":"nominal","legend":null}}},
{"data":{"name":"bd"},"transform":[{"filter":"datum.p==='B3' && datum.s==='Infection'"}],"mark":{"type":"point","shape":"circle","filled":true,"size":160,"opacity":1},"encoding":{"x":{"field":"x","type":"quantitative"},"y":{"field":"m","type":"quantitative"},"color":{"field":"s","type":"nominal","legend":null}}},
{"data":{"name":"bs"},"transform":[{"filter":"datum.p==='B3'"}],"mark":{"type":"text","fontSize":22,"dy":6},"encoding":{"x":{"field":"x","type":"quantitative"},"y":{"field":"y","type":"quantitative"},"text":{"field":"t"},"color":{"field":"s","type":"nominal","legend":null}}}
]},
{"width":67,"height":1,"data":{"values":[]},"mark":"point"},
{"width":236,"height":252,"title":{"text":"MLN tDC","offset":15,"dx":-39},
"layer":[
{"data":{"name":"bd"},"transform":[{"filter":"datum.p==='B4'"}],"mark":{"type":"line","strokeWidth":2.5},
"encoding":{"x":{"field":"x","type":"quantitative","scale":{"domain":[-0.05,6.1],"nice":false},"axis":{"values":[0,2,4,6],"title":"Days post Infect/Immu","titlePadding":9}},
"y":{"field":"m","type":"quantitative","scale":{"domain":[0,8.7652],"nice":false},"axis":{"values":[0,2,4,6,8],"format":"d","domain":false,"title":null}},
"color":{"field":"s","type":"nominal","scale":{"domain":["PBS","PS-GAMP","Infection"],"range":["#8c8c8c","#3a53a4","#e8202a"]},"legend":null}}},
{"data":{"name":"bax"},"transform":[{"filter":"datum.p==='B4'"}],"mark":{"type":"rule","strokeWidth":2.5,"color":"#000"},"encoding":{"x":{"field":"x","type":"quantitative"},"y":{"field":"y","type":"quantitative"},"y2":{"field":"y2"}}},
{"data":{"name":"bd"},"transform":[{"filter":"datum.p==='B4' && isValid(datum.lo)"}],"mark":{"type":"rule","strokeWidth":2.5},"encoding":{"x":{"field":"x","type":"quantitative"},"y":{"field":"lo","type":"quantitative"},"y2":{"field":"hi"},"color":{"field":"s","type":"nominal","legend":null}}},
{"data":{"name":"bd"},"transform":[{"filter":"datum.p==='B4' && isValid(datum.lo)"}],"mark":{"type":"tick","orient":"horizontal","size":12,"thickness":2.5},"encoding":{"x":{"field":"x","type":"quantitative"},"y":{"field":"lo","type":"quantitative"},"color":{"field":"s","type":"nominal","legend":null}}},
{"data":{"name":"bd"},"transform":[{"filter":"datum.p==='B4' && isValid(datum.lo)"}],"mark":{"type":"tick","orient":"horizontal","size":12,"thickness":2.5},"encoding":{"x":{"field":"x","type":"quantitative"},"y":{"field":"hi","type":"quantitative"},"color":{"field":"s","type":"nominal","legend":null}}},
{"data":{"name":"bd"},"transform":[{"filter":"datum.p==='B4' && datum.s==='PBS'"}],"mark":{"type":"point","shape":"triangle-up","filled":true,"size":110,"opacity":1},"encoding":{"x":{"field":"x","type":"quantitative"},"y":{"field":"m","type":"quantitative"},"color":{"field":"s","type":"nominal","legend":null}}},
{"data":{"name":"bd"},"transform":[{"filter":"datum.p==='B4' && datum.s==='PS-GAMP'"}],"mark":{"type":"point","shape":"square","filled":true,"size":140,"opacity":1},"encoding":{"x":{"field":"x","type":"quantitative"},"y":{"field":"m","type":"quantitative"},"color":{"field":"s","type":"nominal","legend":null}}},
{"data":{"name":"bd"},"transform":[{"filter":"datum.p==='B4' && datum.s==='Infection'"}],"mark":{"type":"point","shape":"circle","filled":true,"size":160,"opacity":1},"encoding":{"x":{"field":"x","type":"quantitative"},"y":{"field":"m","type":"quantitative"},"color":{"field":"s","type":"nominal","legend":null}}},
{"data":{"name":"bs"},"transform":[{"filter":"datum.p==='B4'"}],"mark":{"type":"text","fontSize":22,"dy":6},"encoding":{"x":{"field":"x","type":"quantitative"},"y":{"field":"y","type":"quantitative"},"text":{"field":"t"},"color":{"field":"s","type":"nominal","legend":null}}}
]}
],
"spacing":0,"bounds":"flush",
"resolve":{"scale":{"color":"independent","shape":"independent"}}
}
],
"spacing":41,
"resolve":{"scale":{"color":"independent","shape":"independent"}}
},
{
"hconcat":[
{"width":60,"height":375,"data":{"values":[]},"mark":"point","title":{"text":"C","anchor":"start","fontSize":27,"offset":5,"dx":-85}},
{"width":118,"height":230,
"layer":[
{"data":{"name":"br"},"transform":[{"filter":"datum.p==='C'"}],"mark":{"type":"rule","strokeWidth":2.5,"color":"#000"},
"encoding":{"x":{"field":"g1","type":"nominal","scale":{"domain":["OVA alone","+PS-GAMP"],"paddingInner":0,"paddingOuter":0},"axis":{"title":null,"labelAngle":-45}},"x2":{"field":"g2"},
"y":{"field":"y","type":"quantitative","scale":{"domain":[0,10],"nice":false},"axis":{"values":[0,2,4,6,8,10],"format":"d","title":"OVA⁺ DCs in MLN × 10³","titleX":-57,"titleY":115,"titleBaseline":"middle"}},"y2":{"field":"y2"}}},
{"data":{"name":"dp"},"transform":[{"filter":"datum.p==='C'"},{"flatten":["pts"],"as":["v"]}],"mark":{"type":"point","filled":true,"size":280,"stroke":"#222","strokeWidth":1.5,"opacity":1},
"encoding":{"x":{"field":"g","type":"nominal"},"y":{"field":"v","type":"quantitative"},"color":{"field":"g","type":"nominal","scale":{"domain":["OVA alone","+PS-GAMP"],"range":["#e8453c","#5c63b8"]},"legend":null}}},
{"data":{"name":"dp"},"transform":[{"filter":"datum.p==='C'"}],"mark":{"type":"rule","strokeWidth":2.5,"color":"#000"},"encoding":{"x":{"field":"g","type":"nominal"},"y":{"field":"lo","type":"quantitative"},"y2":{"field":"hi"}}},
{"data":{"name":"dp"},"transform":[{"filter":"datum.p==='C'"}],"mark":{"type":"tick","size":14,"thickness":2.5,"color":"#000"},"encoding":{"x":{"field":"g","type":"nominal"},"y":{"field":"lo","type":"quantitative"}}},
{"data":{"name":"dp"},"transform":[{"filter":"datum.p==='C'"}],"mark":{"type":"tick","size":14,"thickness":2.5,"color":"#000"},"encoding":{"x":{"field":"g","type":"nominal"},"y":{"field":"hi","type":"quantitative"}}},
{"data":{"name":"dp"},"transform":[{"filter":"datum.p==='C'"}],"mark":{"type":"tick","size":30,"thickness":2.5,"color":"#000"},"encoding":{"x":{"field":"g","type":"nominal"},"y":{"field":"m","type":"quantitative"}}},
{"data":{"name":"ds"},"transform":[{"filter":"datum.p==='C'"}],"mark":{"type":"text","fontSize":22,"dy":6},"encoding":{"x":{"field":"g","type":"nominal","bandPosition":1},"y":{"field":"y","type":"quantitative"},"text":{"field":"t"}}}
]},
{"width":124,"height":1,"data":{"values":[]},"mark":"point","title":{"text":"D","anchor":"start","fontSize":27,"offset":5,"dx":69}},
{"width":231,"height":231,"view":{"stroke":"#8a8a8a","strokeWidth":1.5},
"layer":[
{"data":{"name":"hist"},"transform":[{"filter":"datum.p==='D' && datum.s==='b'"},{"flatten":["x","y"]}],"mark":{"type":"area","color":"#8f92cd","opacity":1,"line":{"color":"#2b3c9a","strokeWidth":1.5}},
"encoding":{"x":{"field":"x","type":"quantitative","scale":{"domain":[0,100],"nice":false},"axis":{"values":[3.6,7.7,10.6,12.9,14.8,16.4,17.7,18.9,20,27.1,31.2,34.1,36.4,38.3,39.9,41.2,42.4,43.5,50.6,54.7,57.6,59.9,61.8,63.4,64.7,65.9,67,74.1,78.2,81.1,83.4,85.3,86.9,88.2,89.4,90.5,97.6],"labels":false,"title":null,"domain":false,"tickSize":5,"tickWidth":1}},
"y":{"field":"y","type":"quantitative","scale":{"domain":[0,104.5],"nice":false},"axis":{"values":[0,4,8,12,16,20,24,28,32,36,40,44,48,52,56,60,64,68,72,76,80,84,88,92,96,100],"labels":false,"title":"% of Max","domain":false,"tickSize":5,"tickWidth":1,"titleX":-29,"titleY":115,"titleBaseline":"middle"}}}},
{"data":{"name":"hist"},"transform":[{"filter":"datum.p==='D' && datum.s==='r'"},{"flatten":["x","y"]}],"mark":{"type":"area","color":"#c0437f","opacity":1,"line":{"color":"#e8202a","strokeWidth":1.5}},
"encoding":{"x":{"field":"x","type":"quantitative"},"y":{"field":"y","type":"quantitative"}}},
{"data":{"name":"hann"},"transform":[{"filter":"datum.p==='D'"}],"mark":{"type":"text","fontSize":24},"encoding":{"x":{"field":"tx","type":"quantitative"},"y":{"field":"ty","type":"quantitative"},"text":{"field":"t"}}},
{"data":{"name":"hann"},"transform":[{"filter":"datum.p==='D'"}],"mark":{"type":"rule","strokeWidth":2.5,"color":"#000"},"encoding":{"x":{"field":"ax","type":"quantitative"},"y":{"field":"ay1","type":"quantitative"},"y2":{"field":"ay2"}}},
{"data":{"name":"hann"},"transform":[{"filter":"datum.p==='D'"}],"mark":{"type":"point","shape":"triangle-down","filled":true,"size":420,"color":"#000","opacity":1},"encoding":{"x":{"field":"hx","type":"quantitative"},"y":{"field":"hy","type":"quantitative"}}},
{"data":{"name":"hann"},"transform":[{"filter":"datum.p==='D'"}],"mark":{"type":"rule","strokeWidth":2.5,"color":"#000"},"encoding":{"x":{"field":"bx1","type":"quantitative"},"x2":{"field":"bx2"},"y":{"field":"by","type":"quantitative"}}},
{"data":{"name":"hann"},"transform":[{"filter":"datum.p==='D'"}],"mark":{"type":"point","shape":"triangle-right","filled":true,"size":420,"color":"#000","opacity":1},"encoding":{"x":{"field":"bhx","type":"quantitative"},"y":{"field":"by","type":"quantitative"}}},
{"data":{"name":"hann"},"transform":[{"filter":"datum.p==='D'"}],"mark":{"type":"text","fontSize":24},"encoding":{"x":{"field":"lx","type":"quantitative"},"y":{"field":"by","type":"quantitative"},"text":{"field":"lt"}}}
]},
{"width":95,"height":1,"data":{"values":[]},"mark":"point"},
{"width":116,"height":230,
"layer":[
{"data":{"name":"br"},"transform":[{"filter":"datum.p==='D'"}],"mark":{"type":"rule","strokeWidth":2.5,"color":"#000"},
"encoding":{"x":{"field":"g1","type":"nominal","scale":{"domain":["OVA alone","+PS-GAMP"],"paddingInner":0,"paddingOuter":0},"axis":{"title":null,"labelAngle":-45}},"x2":{"field":"g2"},
"y":{"field":"y","type":"quantitative","scale":{"domain":[0,15],"nice":false},"axis":{"values":[0,5,10,15],"format":"d","title":"MFI of CD40 × 10²","titleX":-63,"titleY":115,"titleBaseline":"middle"}},"y2":{"field":"y2"}}},
{"data":{"name":"dp"},"transform":[{"filter":"datum.p==='D'"},{"flatten":["pts"],"as":["v"]}],"mark":{"type":"point","filled":true,"size":280,"stroke":"#222","strokeWidth":1.5,"opacity":1},
"encoding":{"x":{"field":"g","type":"nominal"},"y":{"field":"v","type":"quantitative"},"color":{"field":"g","type":"nominal","scale":{"domain":["OVA alone","+PS-GAMP"],"range":["#e8453c","#5c63b8"]},"legend":null}}},
{"data":{"name":"dp"},"transform":[{"filter":"datum.p==='D'"}],"mark":{"type":"rule","strokeWidth":2.5,"color":"#000"},"encoding":{"x":{"field":"g","type":"nominal"},"y":{"field":"lo","type":"quantitative"},"y2":{"field":"hi"}}},
{"data":{"name":"dp"},"transform":[{"filter":"datum.p==='D'"}],"mark":{"type":"tick","size":14,"thickness":2.5,"color":"#000"},"encoding":{"x":{"field":"g","type":"nominal"},"y":{"field":"lo","type":"quantitative"}}},
{"data":{"name":"dp"},"transform":[{"filter":"datum.p==='D'"}],"mark":{"type":"tick","size":14,"thickness":2.5,"color":"#000"},"encoding":{"x":{"field":"g","type":"nominal"},"y":{"field":"hi","type":"quantitative"}}},
{"data":{"name":"dp"},"transform":[{"filter":"datum.p==='D'"}],"mark":{"type":"tick","size":32,"thickness":2.5,"color":"#000"},"encoding":{"x":{"field":"g","type":"nominal"},"y":{"field":"m","type":"quantitative"}}},
{"data":{"name":"ds"},"transform":[{"filter":"datum.p==='D'"}],"mark":{"type":"text","fontSize":22,"dy":6},"encoding":{"x":{"field":"g","type":"nominal","bandPosition":1},"y":{"field":"y","type":"quantitative"},"text":{"field":"t"}}}
]},
{"width":90,"height":1,"data":{"values":[]},"mark":"point","title":{"text":"E","anchor":"start","fontSize":27,"offset":5,"dx":37}},
{"width":232,"height":231,"view":{"stroke":"#8a8a8a","strokeWidth":1.5},
"layer":[
{"data":{"name":"hist"},"transform":[{"filter":"datum.p==='E' && datum.s==='b'"},{"flatten":["x","y"]}],"mark":{"type":"area","color":"#8f92cd","opacity":1,"line":{"color":"#2b3c9a","strokeWidth":1.5}},
"encoding":{"x":{"field":"x","type":"quantitative","scale":{"domain":[0,100],"nice":false},"axis":{"values":[3.6,7.7,10.6,12.9,14.8,16.4,17.7,18.9,20,27.1,31.2,34.1,36.4,38.3,39.9,41.2,42.4,43.5,50.6,54.7,57.6,59.9,61.8,63.4,64.7,65.9,67,74.1,78.2,81.1,83.4,85.3,86.9,88.2,89.4,90.5,97.6],"labels":false,"title":null,"domain":false,"tickSize":5,"tickWidth":1}},
"y":{"field":"y","type":"quantitative","scale":{"domain":[0,104.5],"nice":false},"axis":{"values":[0,4,8,12,16,20,24,28,32,36,40,44,48,52,56,60,64,68,72,76,80,84,88,92,96,100],"labels":false,"title":"% of Max","domain":false,"tickSize":5,"tickWidth":1,"titleX":-30,"titleY":115,"titleBaseline":"middle"}}}},
{"data":{"name":"hist"},"transform":[{"filter":"datum.p==='E' && datum.s==='r'"},{"flatten":["x","y"]}],"mark":{"type":"area","color":"#c0437f","opacity":1,"line":{"color":"#e8202a","strokeWidth":1.5}},
"encoding":{"x":{"field":"x","type":"quantitative"},"y":{"field":"y","type":"quantitative"}}},
{"data":{"name":"hann"},"transform":[{"filter":"datum.p==='E'"}],"mark":{"type":"text","fontSize":24},"encoding":{"x":{"field":"tx","type":"quantitative"},"y":{"field":"ty","type":"quantitative"},"text":{"field":"t"}}},
{"data":{"name":"hann"},"transform":[{"filter":"datum.p==='E'"}],"mark":{"type":"rule","strokeWidth":2.5,"color":"#000"},"encoding":{"x":{"field":"ax","type":"quantitative"},"y":{"field":"ay1","type":"quantitative"},"x2":{"field":"hx"},"y2":{"field":"ay2"}}},
{"data":{"name":"hann"},"transform":[{"filter":"datum.p==='E'"}],"mark":{"type":"point","shape":"triangle-down","filled":true,"size":300,"color":"#000","opacity":1,"angle":20},"encoding":{"x":{"field":"hx","type":"quantitative"},"y":{"field":"hy","type":"quantitative"}}},
{"data":{"name":"hann"},"transform":[{"filter":"datum.p==='E'"}],"mark":{"type":"rule","strokeWidth":2.5,"color":"#000"},"encoding":{"x":{"field":"bx1","type":"quantitative"},"x2":{"field":"bx2"},"y":{"field":"by","type":"quantitative"}}},
{"data":{"name":"hann"},"transform":[{"filter":"datum.p==='E'"}],"mark":{"type":"point","shape":"triangle-right","filled":true,"size":420,"color":"#000","opacity":1},"encoding":{"x":{"field":"bhx","type":"quantitative"},"y":{"field":"by","type":"quantitative"}}},
{"data":{"name":"hann"},"transform":[{"filter":"datum.p==='E'"}],"mark":{"type":"text","fontSize":24},"encoding":{"x":{"field":"lx","type":"quantitative"},"y":{"field":"by","type":"quantitative"},"text":{"field":"lt"}}}
]},
{"width":93,"height":1,"data":{"values":[]},"mark":"point"},
{"width":115,"height":230,
"layer":[
{"data":{"name":"br"},"transform":[{"filter":"datum.p==='E'"}],"mark":{"type":"rule","strokeWidth":2.5,"color":"#000"},
"encoding":{"x":{"field":"g1","type":"nominal","scale":{"domain":["OVA alone","+PS-GAMP"],"paddingInner":0,"paddingOuter":0},"axis":{"title":null,"labelAngle":-45}},"x2":{"field":"g2"},
"y":{"field":"y","type":"quantitative","scale":{"domain":[0,8],"nice":false},"axis":{"values":[0,4,8],"format":"d","title":"MFI of CD86 × 10²","titleX":-62,"titleY":115,"titleBaseline":"middle"}},"y2":{"field":"y2"}}},
{"data":{"name":"dp"},"transform":[{"filter":"datum.p==='E'"},{"flatten":["pts"],"as":["v"]}],"mark":{"type":"point","filled":true,"size":280,"stroke":"#222","strokeWidth":1.5,"opacity":1},
"encoding":{"x":{"field":"g","type":"nominal"},"y":{"field":"v","type":"quantitative"},"color":{"field":"g","type":"nominal","scale":{"domain":["OVA alone","+PS-GAMP"],"range":["#e8453c","#5c63b8"]},"legend":null}}},
{"data":{"name":"dp"},"transform":[{"filter":"datum.p==='E'"}],"mark":{"type":"rule","strokeWidth":2.5,"color":"#000"},"encoding":{"x":{"field":"g","type":"nominal"},"y":{"field":"lo","type":"quantitative"},"y2":{"field":"hi"}}},
{"data":{"name":"dp"},"transform":[{"filter":"datum.p==='E'"}],"mark":{"type":"tick","size":14,"thickness":2.5,"color":"#000"},"encoding":{"x":{"field":"g","type":"nominal"},"y":{"field":"lo","type":"quantitative"}}},
{"data":{"name":"dp"},"transform":[{"filter":"datum.p==='E'"}],"mark":{"type":"tick","size":14,"thickness":2.5,"color":"#000"},"encoding":{"x":{"field":"g","type":"nominal"},"y":{"field":"hi","type":"quantitative"}}},
{"data":{"name":"dp"},"transform":[{"filter":"datum.p==='E'"}],"mark":{"type":"tick","size":32,"thickness":2.5,"color":"#000"},"encoding":{"x":{"field":"g","type":"nominal"},"y":{"field":"m","type":"quantitative"}}},
{"data":{"name":"ds"},"transform":[{"filter":"datum.p==='E'"}],"mark":{"type":"text","fontSize":22,"dy":6},"encoding":{"x":{"field":"g","type":"nominal","bandPosition":1},"y":{"field":"y","type":"quantitative"},"text":{"field":"t"}}}
]},
{"width":166,"height":1,"data":{"values":[]},"mark":"point","title":{"text":"F","anchor":"start","fontSize":27,"offset":5,"dx":66}},
{"width":231,"height":230,"title":{"text":"Lung","offset":7,"dx":-8},
"layer":[
{"data":{"name":"ld"},"transform":[{"filter":"datum.p==='F'"}],"mark":{"type":"line","strokeWidth":2.5},
"encoding":{"x":{"field":"x","type":"quantitative","scale":{"domain":[0,10.1],"nice":false},"axis":{"values":[0,2,4,6,8,10],"title":"Days post immunization","labelPadding":6,"titlePadding":9}},
"y":{"field":"m","type":"quantitative","scale":{"domain":[0,4],"nice":false},"axis":{"values":[0,1,2,3,4],"format":"d","title":"NP₃₆₆⁺ CD8⁺ T cells × 10⁴","titleX":-55,"titleY":115,"titleBaseline":"middle"}},
"color":{"field":"s","type":"nominal","scale":{"domain":["Vaccine","Vaccine+PS-GAMP"],"range":["#3e55a8","#e8202a"]},
"legend":{"orient":"none","legendX":19.5,"legendY":-14.5,"title":null,"values":["Vaccine+PS-GAMP","Vaccine"],"symbolSize":625,"labelOffset":13.5,"rowPadding":5,"labelFontSize":22,"labelLimit":0,
"encode":{"symbols":{"update":{"shape":{"value":"M-1,0H1M0.4,0A0.4,0.4,0,1,1,-0.4,0A0.4,0.4,0,1,1,0.4,0Z"},"fill":{"signal":"datum.value==='Vaccine' ? '#3e55a8' : '#e8202a'"},"stroke":{"signal":"datum.value==='Vaccine' ? '#3e55a8' : '#e8202a'"},"strokeWidth":{"value":2.5},"opacity":{"value":1}}}}}}}},
{"data":{"name":"ld"},"transform":[{"filter":"datum.p==='F' && isValid(datum.lo)"}],"mark":{"type":"rule","strokeWidth":2.5},"encoding":{"x":{"field":"x","type":"quantitative"},"y":{"field":"lo","type":"quantitative"},"y2":{"field":"hi"},"color":{"field":"s","type":"nominal","legend":null}}},
{"data":{"name":"ld"},"transform":[{"filter":"datum.p==='F' && isValid(datum.lo)"}],"mark":{"type":"tick","orient":"horizontal","size":11,"thickness":2.5},"encoding":{"x":{"field":"x","type":"quantitative"},"y":{"field":"lo","type":"quantitative"},"color":{"field":"s","type":"nominal","legend":null}}},
{"data":{"name":"ld"},"transform":[{"filter":"datum.p==='F' && isValid(datum.lo)"}],"mark":{"type":"tick","orient":"horizontal","size":11,"thickness":2.5},"encoding":{"x":{"field":"x","type":"quantitative"},"y":{"field":"hi","type":"quantitative"},"color":{"field":"s","type":"nominal","legend":null}}},
{"data":{"name":"ld"},"transform":[{"filter":"datum.p==='F'"}],"mark":{"type":"point","shape":"circle","filled":true,"size":110,"opacity":1},"encoding":{"x":{"field":"x","type":"quantitative"},"y":{"field":"m","type":"quantitative"},"color":{"field":"s","type":"nominal","legend":null}}},
{"data":{"name":"ls"},"transform":[{"filter":"datum.p==='F'"}],"mark":{"type":"text","fontSize":22,"dy":6},"encoding":{"x":{"field":"x","type":"quantitative"},"y":{"field":"y","type":"quantitative"},"text":{"field":"t"}}}
]}
],
"spacing":0,"bounds":"flush",
"resolve":{"scale":{"color":"independent","shape":"independent"}}
},
{
"hconcat":[
{"width":19,"height":1,"data":{"values":[]},"mark":"point","title":{"text":"G","anchor":"start","fontSize":27,"offset":21,"dx":-85}},
{"width":231,"height":230,"title":{"text":"MLN","offset":13,"dx":-8},
"layer":[
{"data":{"name":"ld"},"transform":[{"filter":"datum.p==='G'"}],"mark":{"type":"line","strokeWidth":2.5},
"encoding":{"x":{"field":"x","type":"quantitative","scale":{"domain":[0,10.1],"nice":false},"axis":{"values":[0,2,4,6,8,10],"title":"Days post immunization"}},
"y":{"field":"m","type":"quantitative","scale":{"domain":[0,4],"nice":false},"axis":{"values":[0,1,2,3,4],"format":"d","title":"NP₃₆₆⁺ CD8⁺ T cells × 10³","titleX":-57,"titleY":115,"titleBaseline":"middle"}},
"color":{"field":"s","type":"nominal","scale":{"domain":["Vaccine","Vaccine+PS-GAMP"],"range":["#3e55a8","#e8202a"]},"legend":null}}},
{"data":{"name":"ld"},"transform":[{"filter":"datum.p==='G' && isValid(datum.lo)"}],"mark":{"type":"rule","strokeWidth":2.5},"encoding":{"x":{"field":"x","type":"quantitative"},"y":{"field":"lo","type":"quantitative"},"y2":{"field":"hi"},"color":{"field":"s","type":"nominal","legend":null}}},
{"data":{"name":"ld"},"transform":[{"filter":"datum.p==='G' && isValid(datum.lo)"}],"mark":{"type":"tick","orient":"horizontal","size":11,"thickness":2.5},"encoding":{"x":{"field":"x","type":"quantitative"},"y":{"field":"lo","type":"quantitative"},"color":{"field":"s","type":"nominal","legend":null}}},
{"data":{"name":"ld"},"transform":[{"filter":"datum.p==='G' && isValid(datum.lo)"}],"mark":{"type":"tick","orient":"horizontal","size":11,"thickness":2.5},"encoding":{"x":{"field":"x","type":"quantitative"},"y":{"field":"hi","type":"quantitative"},"color":{"field":"s","type":"nominal","legend":null}}},
{"data":{"name":"ld"},"transform":[{"filter":"datum.p==='G'"}],"mark":{"type":"point","shape":"circle","filled":true,"size":140,"opacity":1},"encoding":{"x":{"field":"x","type":"quantitative"},"y":{"field":"m","type":"quantitative"},"color":{"field":"s","type":"nominal","legend":null}}},
{"data":{"name":"ls"},"transform":[{"filter":"datum.p==='G'"}],"mark":{"type":"text","fontSize":22,"dy":6},"encoding":{"x":{"field":"x","type":"quantitative"},"y":{"field":"y","type":"quantitative"},"text":{"field":"t"}}}
]},
{"width":139,"height":1,"data":{"values":[]},"mark":"point","title":{"text":"H","anchor":"start","fontSize":27,"offset":21,"dx":54}},
{"width":233,"height":230,"title":{"text":"BALF","offset":5,"dx":-9},
"layer":[
{"data":{"name":"ld"},"transform":[{"filter":"datum.p==='HB'"}],"mark":{"type":"line","strokeWidth":2.5},
"encoding":{"x":{"field":"x","type":"quantitative","scale":{"domain":[0,6.05],"nice":false},"axis":{"values":[0,2,4,6],"title":"Days post immunization"}},
"y":{"field":"m","type":"quantitative","scale":{"domain":[0,4],"nice":false},"axis":{"values":[0,1,2,3,4],"format":"d","title":"CD8⁺GZMB⁺ T cells × 10³","titleX":-49,"titleY":115,"titleBaseline":"middle"}},
"color":{"field":"s","type":"nominal","scale":{"domain":["Unimmunized","Vaccine","Vaccine+PS-GAMP"],"range":["#000000","#3e55a8","#e8202a"]},
"legend":{"orient":"none","legendX":23,"legendY":-15,"title":null,"values":["Vaccine+PS-GAMP","Vaccine","Unimmunized"],"symbolSize":676,"labelOffset":13,"rowPadding":2.5,"labelFontSize":22,"labelLimit":0,
"encode":{"symbols":{"update":{"shape":{"value":"M-1,0H1M0.4,0A0.4,0.4,0,1,1,-0.4,0A0.4,0.4,0,1,1,0.4,0Z"},"fill":{"signal":"datum.value==='Vaccine' ? '#3e55a8' : datum.value==='Unimmunized' ? '#000000' : '#e8202a'"},"stroke":{"signal":"datum.value==='Vaccine' ? '#3e55a8' : datum.value==='Unimmunized' ? '#000000' : '#e8202a'"},"strokeWidth":{"value":2.5},"opacity":{"value":1}}}}}}}},
{"data":{"name":"ld"},"transform":[{"filter":"datum.p==='HB' && isValid(datum.lo)"}],"mark":{"type":"rule","strokeWidth":2.5},"encoding":{"x":{"field":"x","type":"quantitative"},"y":{"field":"lo","type":"quantitative"},"y2":{"field":"hi"},"color":{"field":"s","type":"nominal","legend":null}}},
{"data":{"name":"ld"},"transform":[{"filter":"datum.p==='HB' && isValid(datum.lo)"}],"mark":{"type":"tick","orient":"horizontal","size":12,"thickness":2.5},"encoding":{"x":{"field":"x","type":"quantitative"},"y":{"field":"lo","type":"quantitative"},"color":{"field":"s","type":"nominal","legend":null}}},
{"data":{"name":"ld"},"transform":[{"filter":"datum.p==='HB' && isValid(datum.lo)"}],"mark":{"type":"tick","orient":"horizontal","size":12,"thickness":2.5},"encoding":{"x":{"field":"x","type":"quantitative"},"y":{"field":"hi","type":"quantitative"},"color":{"field":"s","type":"nominal","legend":null}}},
{"data":{"name":"ld"},"transform":[{"filter":"datum.p==='HB'"}],"mark":{"type":"point","shape":"circle","filled":true,"size":170,"opacity":1},"encoding":{"x":{"field":"x","type":"quantitative"},"y":{"field":"m","type":"quantitative"},"color":{"field":"s","type":"nominal","legend":null}}},
{"data":{"name":"ls"},"transform":[{"filter":"datum.p==='HB'"}],"mark":{"type":"text","fontSize":22,"dy":6},"encoding":{"x":{"field":"x","type":"quantitative"},"y":{"field":"y","type":"quantitative"},"text":{"field":"t"}}},
{"data":{"name":"ann"},"transform":[{"filter":"datum.p==='HB'"}],"mark":{"type":"text","fontSize":19},"encoding":{"x":{"field":"x","type":"quantitative"},"y":{"field":"y","type":"quantitative"},"text":{"field":"t"}}},
{"data":{"name":"ann"},"transform":[{"filter":"datum.p==='HB'"}],"mark":{"type":"rule","strokeWidth":2.5,"color":"#000"},"encoding":{"x":{"field":"x","type":"quantitative"},"y":{"field":"ya","type":"quantitative"},"y2":{"field":"yb"}}},
{"data":{"name":"ann"},"transform":[{"filter":"datum.p==='HB'"}],"mark":{"type":"point","shape":"triangle-down","filled":true,"size":170,"color":"#000","opacity":1},"encoding":{"x":{"field":"x","type":"quantitative"},"y":{"field":"yh","type":"quantitative"}}}
]},
{"width":134,"height":1,"data":{"values":[]},"mark":"point"},
{"width":232,"height":230,"title":{"text":"Lung","offset":13,"dx":-7},
"layer":[
{"data":{"name":"ld"},"transform":[{"filter":"datum.p==='HL'"}],"mark":{"type":"line","strokeWidth":2.5},
"encoding":{"x":{"field":"x","type":"quantitative","scale":{"domain":[0,6.05],"nice":false},"axis":{"values":[0,2,4,6],"title":"Days post immunization"}},
"y":{"field":"m","type":"quantitative","scale":{"domain":[0,8],"nice":false},"axis":{"values":[0,2,4,6,8],"labelExpr":"datum.value === 4 ? '3' : datum.label","title":"CD8⁺GZMB⁺ T cells × 10⁴","titleX":-51,"titleY":115,"titleBaseline":"middle"}},
"color":{"field":"s","type":"nominal","scale":{"domain":["Unimmunized","Vaccine","Vaccine+PS-GAMP"],"range":["#000000","#3e55a8","#e8202a"]},"legend":null}}},
{"data":{"name":"ld"},"transform":[{"filter":"datum.p==='HL' && isValid(datum.lo)"}],"mark":{"type":"rule","strokeWidth":2.5},"encoding":{"x":{"field":"x","type":"quantitative"},"y":{"field":"lo","type":"quantitative"},"y2":{"field":"hi"},"color":{"field":"s","type":"nominal","legend":null}}},
{"data":{"name":"ld"},"transform":[{"filter":"datum.p==='HL' && isValid(datum.lo)"}],"mark":{"type":"tick","orient":"horizontal","size":12,"thickness":2.5},"encoding":{"x":{"field":"x","type":"quantitative"},"y":{"field":"lo","type":"quantitative"},"color":{"field":"s","type":"nominal","legend":null}}},
{"data":{"name":"ld"},"transform":[{"filter":"datum.p==='HL' && isValid(datum.lo)"}],"mark":{"type":"tick","orient":"horizontal","size":12,"thickness":2.5},"encoding":{"x":{"field":"x","type":"quantitative"},"y":{"field":"hi","type":"quantitative"},"color":{"field":"s","type":"nominal","legend":null}}},
{"data":{"name":"ld"},"transform":[{"filter":"datum.p==='HL'"}],"mark":{"type":"point","shape":"circle","filled":true,"size":170,"opacity":1},"encoding":{"x":{"field":"x","type":"quantitative"},"y":{"field":"m","type":"quantitative"},"color":{"field":"s","type":"nominal","legend":null}}},
{"data":{"name":"ls"},"transform":[{"filter":"datum.p==='HL'"}],"mark":{"type":"text","fontSize":22,"dy":6},"encoding":{"x":{"field":"x","type":"quantitative"},"y":{"field":"y","type":"quantitative"},"text":{"field":"t"}}},
{"data":{"name":"ann"},"transform":[{"filter":"datum.p==='HL'"}],"mark":{"type":"text","fontSize":19},"encoding":{"x":{"field":"x","type":"quantitative"},"y":{"field":"y","type":"quantitative"},"text":{"field":"t"}}},
{"data":{"name":"ann"},"transform":[{"filter":"datum.p==='HL'"}],"mark":{"type":"rule","strokeWidth":2.5,"color":"#000"},"encoding":{"x":{"field":"x","type":"quantitative"},"y":{"field":"ya","type":"quantitative"},"y2":{"field":"yb"}}},
{"data":{"name":"ann"},"transform":[{"filter":"datum.p==='HL'"}],"mark":{"type":"point","shape":"triangle-down","filled":true,"size":170,"color":"#000","opacity":1},"encoding":{"x":{"field":"x","type":"quantitative"},"y":{"field":"yh","type":"quantitative"}}}
]},
{"width":150,"height":1,"data":{"values":[]},"mark":"point","title":{"text":"I","anchor":"start","fontSize":27,"offset":23,"dx":65}},
{"width":231,"height":230,"title":{"text":"BALF","offset":13,"dx":16},
"layer":[
{"data":{"name":"br"},"transform":[{"filter":"datum.p==='IB'"}],"mark":{"type":"rule","strokeWidth":2.5,"color":"#000"},
"encoding":{"x":{"field":"g1","type":"nominal","scale":{"domain":["Vaccine","Poly I:C","Pam2CSK4","PS-GAMP"],"paddingInner":0,"paddingOuter":0},"axis":{"title":null,"labelAngle":-45,"labelFontSize":21}},"x2":{"field":"g2"},
"y":{"field":"y","type":"quantitative","scale":{"domain":[0,4],"nice":false},"axis":{"values":[0,1,2,3,4],"format":"d","title":"CD8⁺GZMB⁺ T cells × 10³","titleX":-47,"titleY":115,"titleBaseline":"middle"}},"y2":{"field":"y2"}}},
{"data":{"name":"dp"},"transform":[{"filter":"datum.p==='IB'"},{"flatten":["pts"],"as":["v"]}],"mark":{"type":"point","filled":true,"size":250,"stroke":"#222","strokeWidth":1.5,"opacity":1,"color":"#8b8fd0"},
"encoding":{"x":{"field":"g","type":"nominal"},"y":{"field":"v","type":"quantitative"}}},
{"data":{"name":"dp"},"transform":[{"filter":"datum.p==='IB'"}],"mark":{"type":"rule","strokeWidth":2.5,"color":"#000"},"encoding":{"x":{"field":"g","type":"nominal"},"y":{"field":"lo","type":"quantitative"},"y2":{"field":"hi"}}},
{"data":{"name":"dp"},"transform":[{"filter":"datum.p==='IB'"}],"mark":{"type":"tick","size":14,"thickness":2.5,"color":"#000"},"encoding":{"x":{"field":"g","type":"nominal"},"y":{"field":"lo","type":"quantitative"}}},
{"data":{"name":"dp"},"transform":[{"filter":"datum.p==='IB'"}],"mark":{"type":"tick","size":14,"thickness":2.5,"color":"#000"},"encoding":{"x":{"field":"g","type":"nominal"},"y":{"field":"hi","type":"quantitative"}}},
{"data":{"name":"dp"},"transform":[{"filter":"datum.p==='IB'"}],"mark":{"type":"tick","size":30,"thickness":2.5,"color":"#000"},"encoding":{"x":{"field":"g","type":"nominal"},"y":{"field":"m","type":"quantitative"}}},
{"data":{"name":"ds"},"transform":[{"filter":"datum.p==='IB'"}],"mark":{"type":"text","fontSize":22,"dy":6},"encoding":{"x":{"field":"g","type":"nominal"},"y":{"field":"y","type":"quantitative"},"text":{"field":"t"}}}
]},
{"width":112,"height":1,"data":{"values":[]},"mark":"point"},
{"width":231,"height":230,"title":{"text":"Lung","offset":18,"dx":22},
"layer":[
{"data":{"name":"br"},"transform":[{"filter":"datum.p==='IL'"}],"mark":{"type":"rule","strokeWidth":2.5,"color":"#000"},
"encoding":{"x":{"field":"g1","type":"nominal","scale":{"domain":["Vaccine","Poly I:C","Pam2CSK4","PS-GAMP"],"paddingInner":0,"paddingOuter":0},"axis":{"title":null,"labelAngle":-45,"labelFontSize":21}},"x2":{"field":"g2"},
"y":{"field":"y","type":"quantitative","scale":{"domain":[0,8],"nice":false},"axis":{"values":[0,2,4,6,8],"format":"d","title":"CD8⁺GZMB⁺ T cells × 10⁴","titleX":-47,"titleY":115,"titleBaseline":"middle"}},"y2":{"field":"y2"}}},
{"data":{"name":"dp"},"transform":[{"filter":"datum.p==='IL'"},{"flatten":["pts"],"as":["v"]}],"mark":{"type":"point","filled":true,"size":250,"stroke":"#222","strokeWidth":1.5,"opacity":1,"color":"#8b8fd0"},
"encoding":{"x":{"field":"g","type":"nominal"},"y":{"field":"v","type":"quantitative"}}},
{"data":{"name":"dp"},"transform":[{"filter":"datum.p==='IL'"}],"mark":{"type":"rule","strokeWidth":2.5,"color":"#000"},"encoding":{"x":{"field":"g","type":"nominal"},"y":{"field":"lo","type":"quantitative"},"y2":{"field":"hi"}}},
{"data":{"name":"dp"},"transform":[{"filter":"datum.p==='IL'"}],"mark":{"type":"tick","size":14,"thickness":2.5,"color":"#000"},"encoding":{"x":{"field":"g","type":"nominal"},"y":{"field":"lo","type":"quantitative"}}},
{"data":{"name":"dp"},"transform":[{"filter":"datum.p==='IL'"}],"mark":{"type":"tick","size":14,"thickness":2.5,"color":"#000"},"encoding":{"x":{"field":"g","type":"nominal"},"y":{"field":"hi","type":"quantitative"}}},
{"data":{"name":"dp"},"transform":[{"filter":"datum.p==='IL'"}],"mark":{"type":"tick","size":30,"thickness":2.5,"color":"#000"},"encoding":{"x":{"field":"g","type":"nominal"},"y":{"field":"m","type":"quantitative"}}},
{"data":{"name":"ds"},"transform":[{"filter":"datum.p==='IL'"}],"mark":{"type":"text","fontSize":22,"dy":6},"encoding":{"x":{"field":"g","type":"nominal"},"y":{"field":"y","type":"quantitative"},"text":{"field":"t"}}}
]}
],
"spacing":0,"bounds":"flush",
"resolve":{"scale":{"color":"independent","shape":"independent"}}
}
]
}
